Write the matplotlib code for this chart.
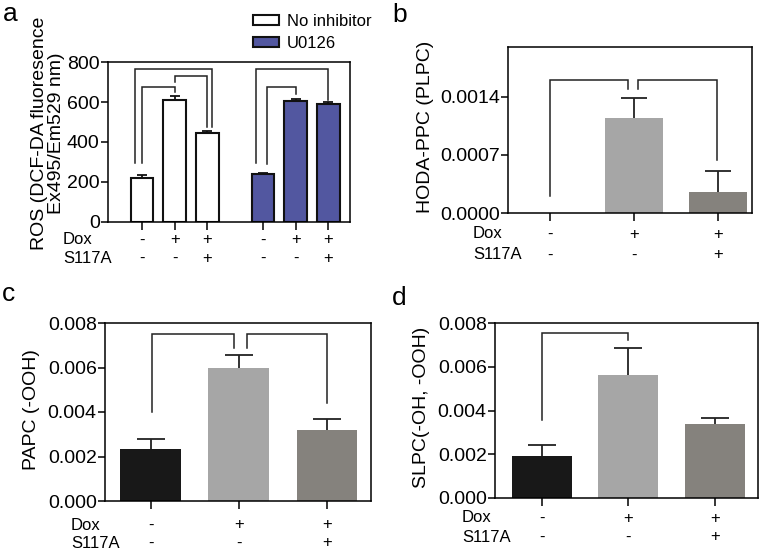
import matplotlib
matplotlib.use('Agg')
import matplotlib.pyplot as plt

plt.rcParams['font.family'] = ['Liberation Sans', 'DejaVu Sans']

W, H = 761, 552

# --- data ---
# panel a
a_pos = [0, 1, 2, 3.7, 4.7, 5.7]
a_vals = [222, 610, 445, 238, 605, 590]
a_err = [12, 20, 10, 5, 8, 12]
a_groups = ['No inhibitor', 'U0126']
a_dox = ['-', '+', '+', '-', '+', '+']
a_s117a = ['-', '-', '+', '-', '-', '+']

# panels b, c, d
pos3 = [0, 1, 2]
dox3 = ['-', '+', '+']
s117a3 = ['-', '-', '+']
b_vals = [0.0, 0.00114, 0.000256]
b_err = [0.0, 0.00025, 0.000255]
c_vals = [0.00234, 0.0060, 0.0032]
c_err = [0.00044, 0.00054, 0.0005]
d_vals = [0.00193, 0.00562, 0.00339]
d_err = [0.0005, 0.00126, 0.00025]

# significance brackets: (x_left, y_left, x_right, y_right, y_top)
a_brackets = [(0, 295, 1, 650, 675), (1, 700, 2, 475, 730), (-0.2, 295, 2.15, 475, 765),
              (3.82, 290, 4.7, 640, 675), (3.5, 295, 5.7, 610, 765)]
b_brackets = [(0, 0.000207, 0.93, 0.00149, 0.0016), (1.05, 0.00149, 1.98, 0.000633, 0.0016)]
c_brackets = [(0.01, 0.00398, 0.94, 0.00687, 0.0075), (1.09, 0.00687, 2.0, 0.0044, 0.0075)]
d_brackets = [(0, 0.00357, 1.0, 0.00721, 0.00754)]

gray_cols = ['#181818', '#a6a6a6', '#85827d']
blue = '#5257a0'


def box(l, t, r, b):
    # pixel box -> figure fraction rect
    return [l / W, 1 - b / H, (r - l) / W, (b - t) / H]


def style_axes(ax):
    for s in ax.spines.values():
        s.set_linewidth(1.1)
    ax.tick_params(axis='y', labelsize=14, width=1.1, length=5, pad=1)
    ax.tick_params(axis='x', width=1.1, length=6, labelbottom=False)


def up_errbars(ax, x, y, err, capsize, color='#222222'):
    # one-sided (upward) error bars, lower cap hidden
    _, caps, _ = ax.errorbar(x, y, yerr=[[0] * len(err), err], fmt='none',
                             ecolor=color, elinewidth=1.3, capsize=capsize, capthick=1.3)
    caps[0].set_visible(False)


def draw_brackets(ax, brackets):
    for xl, yl, xr, yr, yt in brackets:
        ax.plot([xl, xl, xr, xr], [yl, yt, yt, yr], color='#222222', lw=1.1,
                solid_joinstyle='miter')


def sign_rows(ax, pos, dox, s117a, label_x, y1, y2):
    trans = ax.get_xaxis_transform()
    fig = ax.figure
    bb = ax.get_position()
    for yy, signs, name in [(y1, dox, 'Dox'), (y2, s117a, 'S117A')]:
        yf = 1 - yy / H
        fig.text(label_x / W, yf, name, fontsize=12, ha='left', va='center')
        ya = (yf - bb.y0) / bb.height
        for p, s in zip(pos, signs):
            ax.text(p, ya, s, transform=trans, fontsize=12, ha='center', va='center')


fig = plt.figure(figsize=(W / 100, H / 100), dpi=100)

# ---------- panel a ----------
ax = fig.add_axes(box(108, 62, 350, 222))
bars_a = []
for i in range(2):
    sl = slice(3 * i, 3 * i + 3)
    b = ax.bar(a_pos[sl], a_vals[sl], width=0.7, color=['white', blue][i],
               edgecolor='#111111', linewidth=1.5, label=a_groups[i])
    up_errbars(ax, a_pos[sl], a_vals[sl], a_err[sl], 3.5, '#111111')
    bars_a.append(b)
ax.set_ylim(0, 800)
ax.set_xlim(-1.04, 6.36)
ax.set_yticks([0, 200, 400, 600, 800])
ax.set_xticks(a_pos)
style_axes(ax)
draw_brackets(ax, a_brackets)
leg = fig.legend(handles=bars_a, labels=a_groups, loc='upper left',
                 bbox_to_anchor=(241 / W, 1 - 2 / H), frameon=False, fontsize=12,
                 handlelength=1.6, handleheight=0.55, handletextpad=0.45,
                 labelspacing=0.45, borderpad=0.2)
sign_rows(ax, a_pos, a_dox, a_s117a, 63, 240, 258)
fig.text(48 / W, 1 - 133 / H, 'ROS (DCF-DA fluoresence\nEx495/Em529 nm)', rotation=90,
         fontsize=14, ha='center', va='center', multialignment='center', linespacing=1.05)
fig.text(3 / W, 1 - 14 / H, 'a', fontsize=19, ha='left', va='center')

# ---------- panel b ----------
ax = fig.add_axes(box(508, 47, 752, 213))
ax.bar(pos3, b_vals, width=0.69, color=gray_cols)
up_errbars(ax, pos3[1:], b_vals[1:], b_err[1:], 9.5)
ax.set_ylim(0, 0.002)
ax.set_xlim(-0.5, 2.4)
ax.set_yticks([0, 0.0007, 0.0014])
ax.set_yticklabels(['0.0000', '0.0007', '0.0014'])
ax.set_xticks(pos3)
style_axes(ax)
draw_brackets(ax, b_brackets)
sign_rows(ax, pos3, dox3, s117a3, 473, 234, 255)
fig.text(425 / W, 1 - 127 / H, 'HODA-PPC (PLPC)', rotation=90, fontsize=14,
         ha='center', va='center')
fig.text(392 / W, 1 - 15 / H, 'b', fontsize=19, ha='left', va='center')

# ---------- panel c ----------
ax = fig.add_axes(box(105, 323, 371, 501))
ax.bar(pos3, c_vals, width=0.69, color=gray_cols)
up_errbars(ax, pos3, c_vals, c_err, 10)
ax.set_ylim(0, 0.008)
ax.set_xlim(-0.52, 2.5)
ax.set_yticks([0, 0.002, 0.004, 0.006, 0.008])
ax.set_yticklabels(['0.000', '0.002', '0.004', '0.006', '0.008'])
ax.set_xticks(pos3)
style_axes(ax)
draw_brackets(ax, c_brackets)
sign_rows(ax, pos3, dox3, s117a3, 71, 525, 543)
fig.text(32 / W, 1 - 410 / H, 'PAPC (-OOH)', rotation=90, fontsize=14,
         ha='center', va='center')
fig.text(2 / W, 1 - 294 / H, 'c', fontsize=19, ha='left', va='center')

# ---------- panel d ----------
ax = fig.add_axes(box(495, 323, 758, 498))
ax.bar(pos3, d_vals, width=0.69, color=gray_cols)
up_errbars(ax, pos3, d_vals, d_err, 10)
ax.set_ylim(0, 0.008)
ax.set_xlim(-0.54, 2.5)
ax.set_yticks([0, 0.002, 0.004, 0.006, 0.008])
ax.set_yticklabels(['0.000', '0.002', '0.004', '0.006', '0.008'])
ax.set_xticks(pos3)
style_axes(ax)
draw_brackets(ax, d_brackets)
sign_rows(ax, pos3, dox3, s117a3, 462, 518, 537)
fig.text(422 / W, 1 - 407 / H, 'SLPC(-OH, -OOH)', rotation=90, fontsize=14,
         ha='center', va='center')
fig.text(392 / W, 1 - 298 / H, 'd', fontsize=19, ha='left', va='center')

fig.savefig('out.png', dpi=100)
